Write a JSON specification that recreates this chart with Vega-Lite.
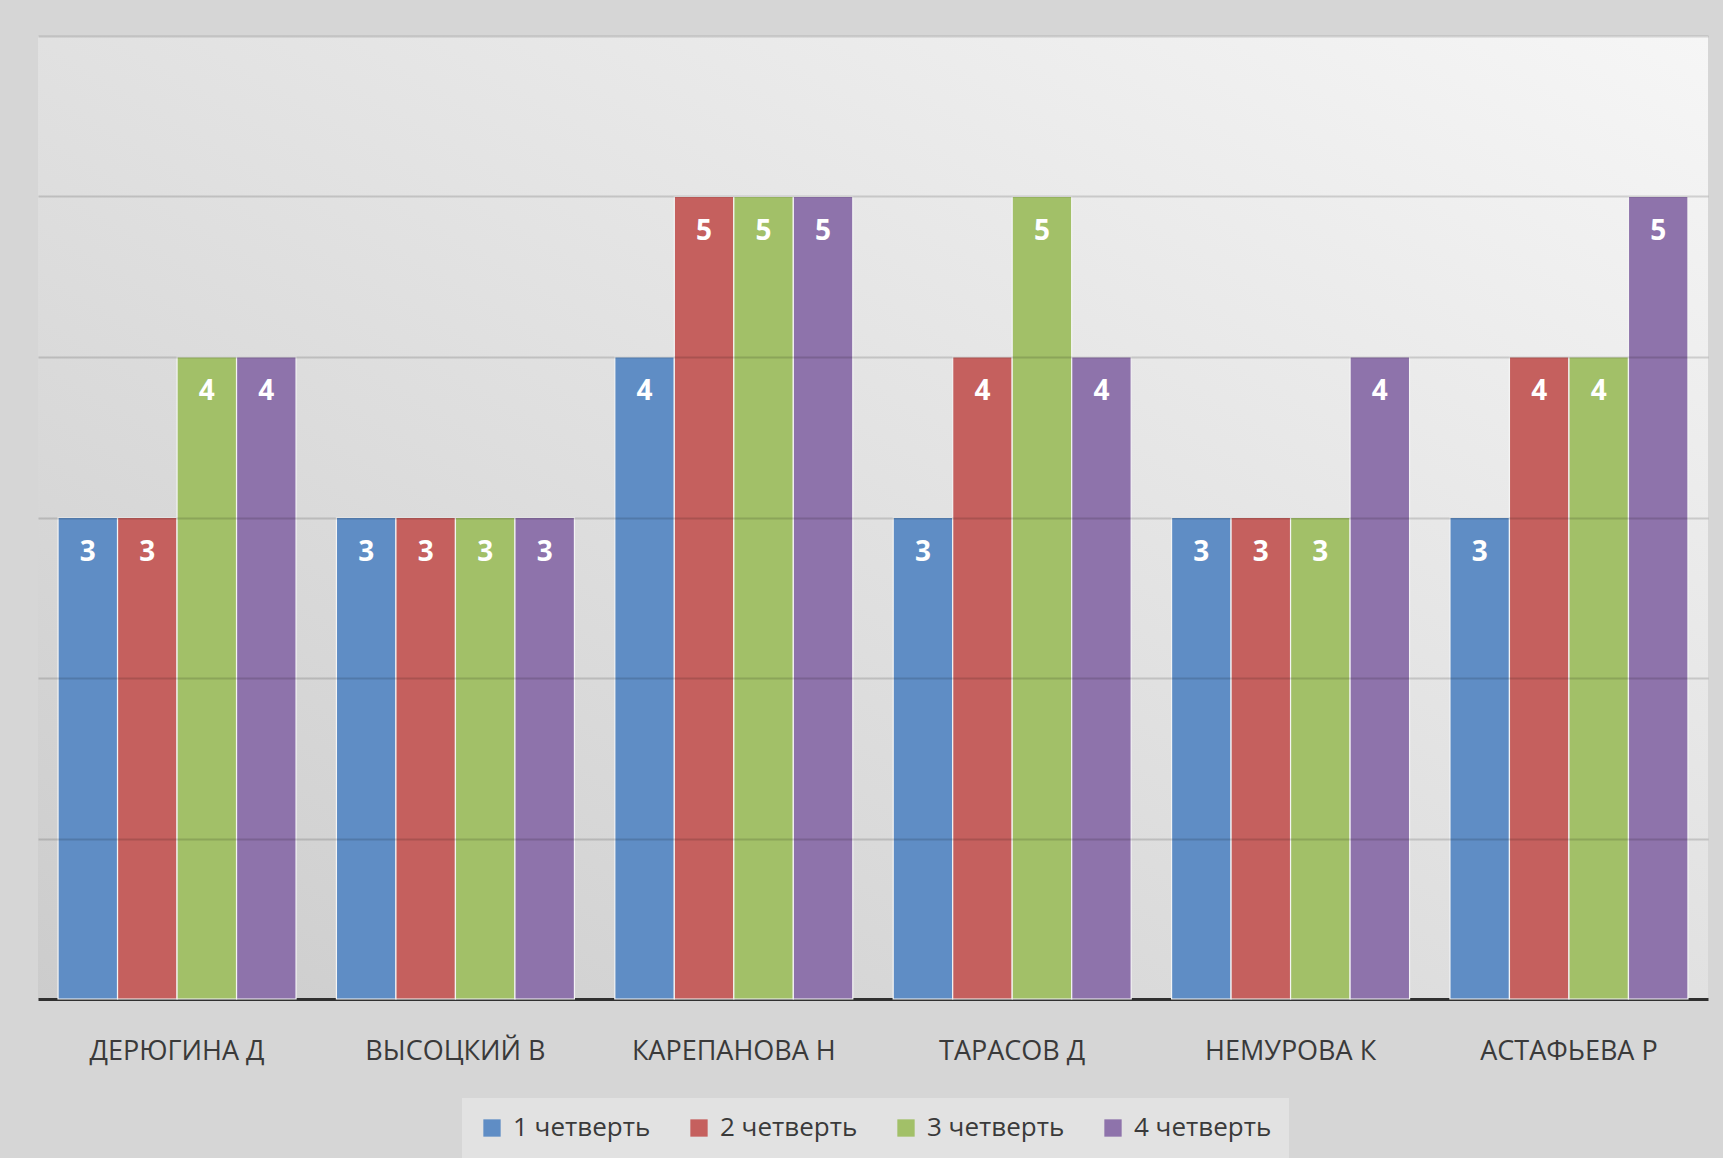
{
  "$schema": "https://vega.github.io/schema/vega-lite/v6.json",
  "width": 1670,
  "height": 963,
  "padding": {"left": 38, "top": 36, "right": 15, "bottom": 0},
  "background": "#d6d6d6",
  "config": {
    "font": "Open Sans",
    "view": {
      "stroke": null,
      "fill": {"gradient": "linear", "x1": 1, "y1": 0, "x2": 0, "y2": 1,
        "stops": [{"offset": 0, "color": "#f6f6f6"}, {"offset": 1, "color": "#cccccc"}]}
    }
  },
  "data": {
    "values": [
      {"student": "ДЕРЮГИНА Д", "quarter": "1 четверть", "grade": 3},
      {"student": "ДЕРЮГИНА Д", "quarter": "2 четверть", "grade": 3},
      {"student": "ДЕРЮГИНА Д", "quarter": "3 четверть", "grade": 4},
      {"student": "ДЕРЮГИНА Д", "quarter": "4 четверть", "grade": 4},
      {"student": "ВЫСОЦКИЙ В", "quarter": "1 четверть", "grade": 3},
      {"student": "ВЫСОЦКИЙ В", "quarter": "2 четверть", "grade": 3},
      {"student": "ВЫСОЦКИЙ В", "quarter": "3 четверть", "grade": 3},
      {"student": "ВЫСОЦКИЙ В", "quarter": "4 четверть", "grade": 3},
      {"student": "КАРЕПАНОВА Н", "quarter": "1 четверть", "grade": 4},
      {"student": "КАРЕПАНОВА Н", "quarter": "2 четверть", "grade": 5},
      {"student": "КАРЕПАНОВА Н", "quarter": "3 четверть", "grade": 5},
      {"student": "КАРЕПАНОВА Н", "quarter": "4 четверть", "grade": 5},
      {"student": "ТАРАСОВ Д", "quarter": "1 четверть", "grade": 3},
      {"student": "ТАРАСОВ Д", "quarter": "2 четверть", "grade": 4},
      {"student": "ТАРАСОВ Д", "quarter": "3 четверть", "grade": 5},
      {"student": "ТАРАСОВ Д", "quarter": "4 четверть", "grade": 4},
      {"student": "НЕМУРОВА К", "quarter": "1 четверть", "grade": 3},
      {"student": "НЕМУРОВА К", "quarter": "2 четверть", "grade": 3},
      {"student": "НЕМУРОВА К", "quarter": "3 четверть", "grade": 3},
      {"student": "НЕМУРОВА К", "quarter": "4 четверть", "grade": 4},
      {"student": "АСТАФЬЕВА Р", "quarter": "1 четверть", "grade": 3},
      {"student": "АСТАФЬЕВА Р", "quarter": "2 четверть", "grade": 4},
      {"student": "АСТАФЬЕВА Р", "quarter": "3 четверть", "grade": 4},
      {"student": "АСТАФЬЕВА Р", "quarter": "4 четверть", "grade": 5}
    ]
  },
  "encoding": {
    "x": {
      "field": "student", "type": "nominal", "sort": null,
      "scale": {"paddingInner": 0.145, "paddingOuter": 0.072},
      "axis": {
        "title": null, "labelAngle": 0, "ticks": false, "labelLimit": 400,
        "labelFontSize": 27, "labelColor": "#3a3a3a", "labelPadding": 39,
        "domainColor": "#303030", "domainWidth": 3
      }
    },
    "xOffset": {"field": "quarter", "type": "nominal", "scale": {"paddingInner": 0, "paddingOuter": 0}},
    "y": {
      "field": "grade", "type": "quantitative",
      "scale": {"domain": [0, 6], "nice": false},
      "axis": {
        "title": null, "labels": false, "ticks": false, "domain": false,
        "values": [1, 2, 3, 4, 5, 6],
        "grid": true, "gridColor": "#000000", "gridOpacity": 0.14, "gridWidth": 2,
        "zindex": 1
      }
    }
  },
  "layer": [
    {
      "mark": {"type": "bar", "stroke": "#f4f4f4", "strokeWidth": 1.2},
      "encoding": {
        "color": {
          "field": "quarter", "type": "nominal",
          "scale": {"range": ["#5f8dc5", "#c5605e", "#a2c068", "#8e73ab"]},
          "legend": {
            "title": null, "orient": "none", "legendX": 424, "legendY": 1062,
            "direction": "horizontal",
            "symbolType": "square", "symbolSize": 300, "symbolStrokeWidth": 0,
            "labelFontSize": 26, "labelColor": "#3a3a3a", "labelOffset": 8,
            "columnPadding": 35, "fillColor": "#e2e2e2", "padding": 17
          }
        }
      }
    },
    {
      "mark": {"type": "text", "color": "white", "fontWeight": "bold", "fontSize": 28, "baseline": "middle", "dy": 35},
      "encoding": {"text": {"field": "grade", "type": "quantitative"}}
    }
  ]
}
